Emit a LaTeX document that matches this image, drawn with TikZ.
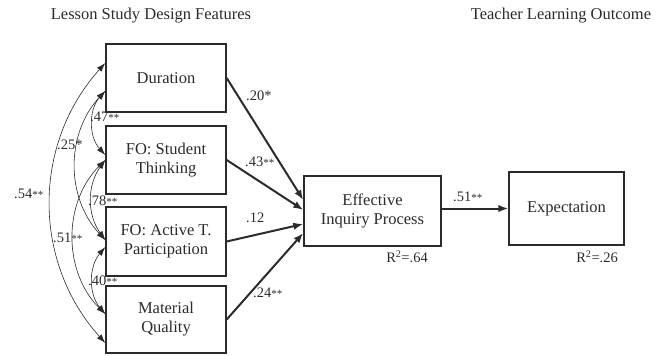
\documentclass[tikz,border=0pt]{standalone}
\usepackage{fontspec}
\setmainfont{Liberation Serif}
\usetikzlibrary{arrows.meta}
\definecolor{ink}{HTML}{2B2B2B}
% smaller double asterisk used after the path coefficients
\newcommand{\twostar}{{\fontsize{11}{11}\selectfont **}}

\begin{document}
\begin{tikzpicture}[x=1pt, y=-1pt,
  box/.style={draw=ink, line width=1.4pt, align=center, inner sep=2pt,
    font=\fontsize{16.5}{19}\selectfont, text=ink},
  effect/.style={draw=ink, line width=2pt, -{Latex[length=10pt,width=7.5pt]}},
  corr/.style={draw=ink, line width=0.6pt,
    {Latex[length=9pt,width=6pt]}-{Latex[length=9pt,width=6pt]}},
  coef/.style={font=\fontsize{14.5}{16}\selectfont, text=ink, inner sep=0pt},
  heading/.style={font=\fontsize{16.5}{19}\selectfont, text=ink, inner sep=0pt}]

\useasboundingbox (0,0) rectangle (665,356);

% headings
\node[heading] (lhead) at (151,16) {Lesson Study Design Features};
\node[heading] (rhead) at (561,16) {Teacher Learning Outcome};

% design features
\node[box, minimum width=120pt, minimum height=68pt] (dur) at (166,78) {Duration};
\node[box, minimum width=120pt, minimum height=68pt] (stu) at (166,160) {FO: Student\\Thinking};
\node[box, minimum width=120pt, minimum height=69pt] (act) at (166,241.5) {FO: Active T.\\Participation};
\node[box, minimum width=120pt, minimum height=67pt] (mat) at (166,319.5) {Material\\Quality};

% mediator and outcome
\node[box, minimum width=137pt, minimum height=70pt] (eip) at (372.5,211) {Effective\\Inquiry Process};
\node[box, minimum width=115pt, minimum height=73pt] (exp) at (566.5,208.5) {Expectation};

% attachment points of the correlation arcs
\coordinate (d1) at ([yshift=15pt]dur.west);
\coordinate (d2) at ([yshift=-13pt]dur.west);
\coordinate (s1) at ([yshift=5pt]stu.west);
\coordinate (s2) at (stu.west);
\coordinate (a1) at ([yshift=1.5pt]act.west);
\coordinate (a2) at ([yshift=-5.5pt]act.west);
\coordinate (m1) at ([yshift=5.5pt]mat.west);
\coordinate (m2) at ([yshift=-23.5pt]mat.west);

% correlations among the design features
\draw[corr] (d2) to[bend right=42] (s1);
\draw[corr] (s2) to[bend right=36] (a1);
\draw[corr] (a2) to[bend right=40] (m1);
\draw[corr] (d2) to[bend right=43] (a1);
\draw[corr] (s2) to[bend right=45] (m1);
\draw[corr] (d1) to[bend right=42] (m2);

\node[coef, anchor=west] (r47) at (90,117) {.47\twostar};
\node[coef, anchor=west] (r25) at (57,145) {.25*};
\node[coef, anchor=west] (r78) at (88,201) {.78\twostar};
\node[coef, anchor=west] (r54) at (14,194) {.54\twostar};
\node[coef, anchor=west] (r51) at (53,238) {.51\twostar};
\node[coef, anchor=west] (r40) at (88,281) {.40\twostar};

% arrival points on the mediator
\coordinate (e1) at ([yshift=11pt]eip.west);
\coordinate (e2) at ([yshift=1pt]eip.west);
\coordinate (e3) at ([yshift=-13pt]eip.west);
\coordinate (e4) at ([yshift=-22pt]eip.west);

% direct effects
\draw[effect] (dur.east) -- (e1);
\draw[effect] (stu.east) -- (e2);
\draw[effect] (act.east) -- (e3);
\draw[effect] (mat.east) -- (e4);
\draw[effect] (eip.east |- exp.west) -- (exp.west);

\node[coef, anchor=west] (b20) at (246,96) {.20*};
\node[coef, anchor=west] (b43) at (245,162) {.43\twostar};
\node[coef, anchor=west] (b12) at (246,218) {.12};
\node[coef, anchor=west] (b24) at (253,293) {.24\twostar};
\node[coef, anchor=west] (b51) at (453,197) {.51\twostar};

% explained variance
\node[coef, anchor=east] (r2a) at (428,257) {R\textsuperscript{2}=.64};
\node[coef, anchor=east] (r2b) at (618,257) {R\textsuperscript{2}=.26};
\end{tikzpicture}
\end{document}
